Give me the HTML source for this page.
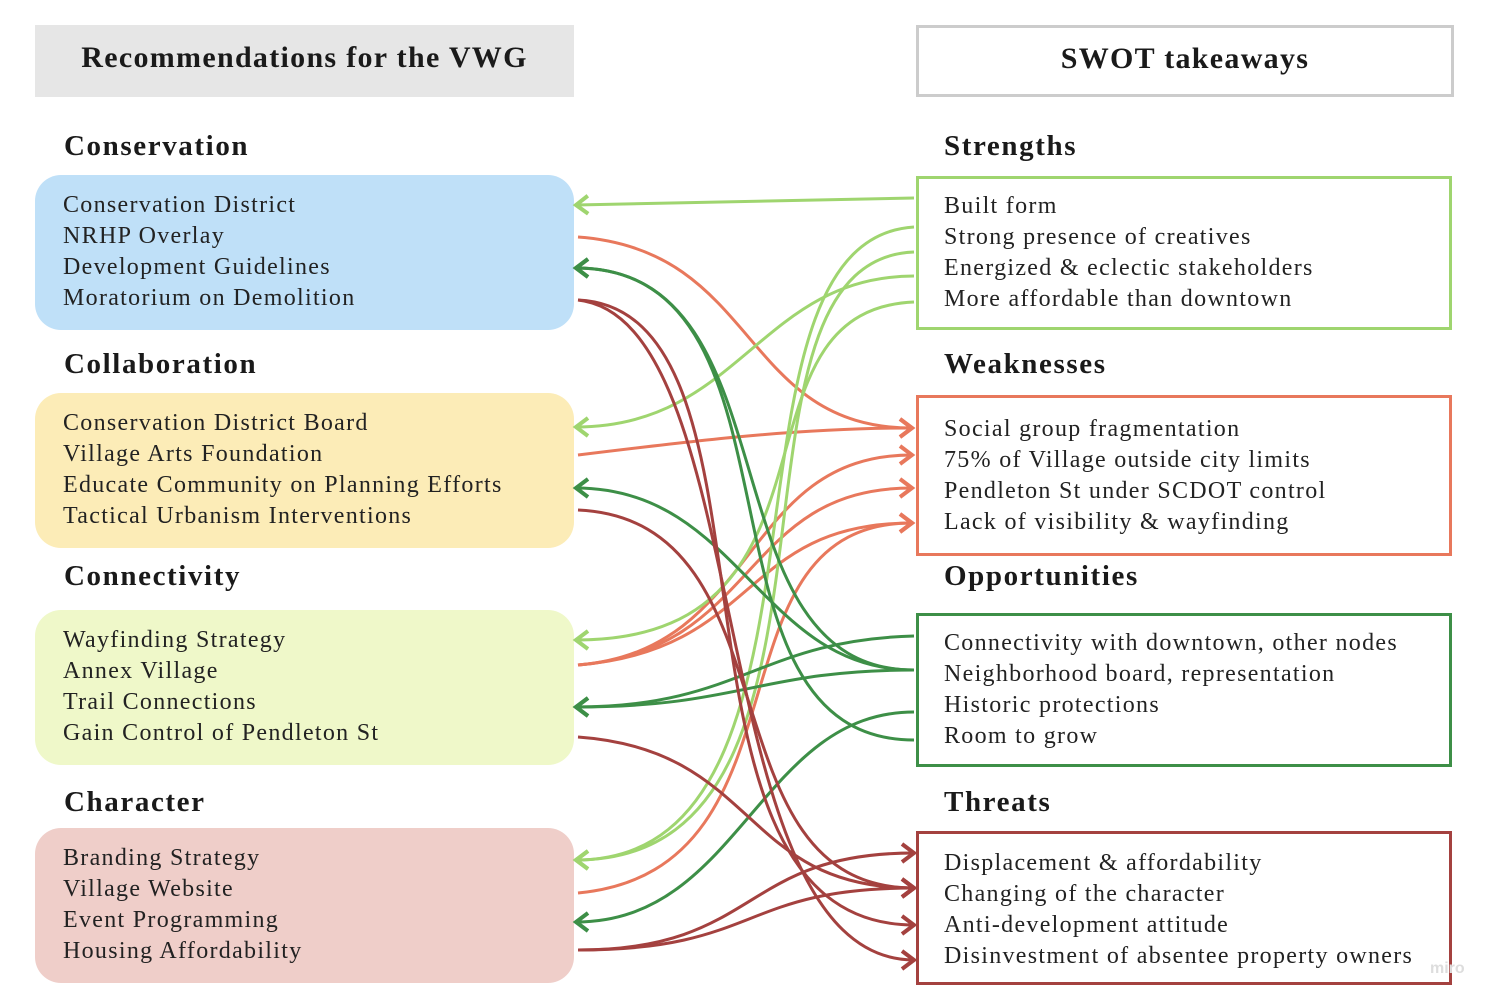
<!DOCTYPE html>
<html><head><meta charset="utf-8"><style>
body{margin:0;width:1494px;height:1007px;background:#fff;position:relative;overflow:hidden;font-family:"Liberation Serif",serif;}
.hd{position:absolute;box-sizing:border-box;font-weight:bold;font-size:30px;text-align:center;color:#1a1a1a;letter-spacing:1.3px}
.sec{position:absolute;font-weight:bold;font-size:29px;color:#1a1a1a;letter-spacing:1.6px}
.box{position:absolute;box-sizing:border-box;font-size:24px;line-height:31px;color:#222;padding-left:28px;letter-spacing:1.3px;white-space:nowrap}
.lb{border-radius:26px;left:35px;width:539px;height:155px;padding-top:15px}
.rb{left:916px;width:536px;height:154px;border:3px solid;padding-left:25px;padding-top:12px}
</style></head><body>
<div class="hd" style="left:35px;top:25px;width:539px;height:72px;background:#e6e6e6;line-height:66px">Recommendations for the VWG</div>
<div class="hd" style="left:916px;top:25px;width:538px;height:72px;border:3px solid #ccc;line-height:62px">SWOT takeaways</div>

<div class="sec" style="left:64px;top:130px">Conservation</div>
<div class="sec" style="left:64px;top:348px">Collaboration</div>
<div class="sec" style="left:64px;top:560px">Connectivity</div>
<div class="sec" style="left:64px;top:786px">Character</div>
<div class="sec" style="left:944px;top:130px">Strengths</div>
<div class="sec" style="left:944px;top:348px">Weaknesses</div>
<div class="sec" style="left:944px;top:560px">Opportunities</div>
<div class="sec" style="left:944px;top:786px">Threats</div>

<div class="box lb" style="top:175px;background:#bfe0f8">Conservation District<br>NRHP Overlay<br>Development Guidelines<br>Moratorium on Demolition</div>
<div class="box lb" style="top:393px;background:#fcecb7">Conservation District Board<br>Village Arts Foundation<br>Educate Community on Planning Efforts<br>Tactical Urbanism Interventions</div>
<div class="box lb" style="top:610px;background:#eff8c9">Wayfinding Strategy<br>Annex Village<br>Trail Connections<br>Gain Control of Pendleton St</div>
<div class="box lb" style="top:828px;background:#efcec9">Branding Strategy<br>Village Website<br>Event Programming<br>Housing Affordability</div>

<div class="box rb" style="top:176px;border-color:#9fd56f">Built form<br>Strong presence of creatives<br>Energized &amp; eclectic stakeholders<br>More affordable than downtown</div>
<div class="box rb" style="top:395px;height:161px;border-color:#e8785c;padding-top:16px">Social group fragmentation<br>75% of Village outside city limits<br>Pendleton St under SCDOT control<br>Lack of visibility &amp; wayfinding</div>
<div class="box rb" style="top:613px;border-color:#3d8f47;padding-top:12px">Connectivity with downtown, other nodes<br>Neighborhood board, representation<br>Historic protections<br>Room to grow</div>
<div class="box rb" style="top:831px;border-color:#a4413f;padding-top:14px">Displacement &amp; affordability<br>Changing of the character<br>Anti-development attitude<br>Disinvestment of absentee property owners</div>
<div style="position:absolute;left:1430px;top:960px;color:#ddd;font-family:'Liberation Sans',sans-serif;font-size:16px;font-weight:bold">miro</div>

<svg width="1494" height="1007" style="position:absolute;left:0;top:0" fill="none" stroke-width="3">
<defs>
<marker id="lg" markerWidth="20" markerHeight="24" refX="15" refY="12" orient="auto" markerUnits="userSpaceOnUse" viewBox="0 0 20 24"><path d="M3,3 L15,12 L3,21" stroke="#9fd56f" stroke-width="4" fill="none"/></marker>
<marker id="sa" markerWidth="20" markerHeight="24" refX="15" refY="12" orient="auto" markerUnits="userSpaceOnUse" viewBox="0 0 20 24"><path d="M3,3 L15,12 L3,21" stroke="#e8785c" stroke-width="4" fill="none"/></marker>
<marker id="dg" markerWidth="20" markerHeight="24" refX="15" refY="12" orient="auto" markerUnits="userSpaceOnUse" viewBox="0 0 20 24"><path d="M3,3 L15,12 L3,21" stroke="#3d8f47" stroke-width="4" fill="none"/></marker>
<marker id="dr" markerWidth="20" markerHeight="24" refX="15" refY="12" orient="auto" markerUnits="userSpaceOnUse" viewBox="0 0 20 24"><path d="M3,3 L15,12 L3,21" stroke="#a4413f" stroke-width="4" fill="none"/></marker>
</defs>
<g stroke="#e8785c" marker-end="url(#sa)">
<path d="M578,237 C760,250 740,428 912,428"/>
<path d="M578,455 C700,440 800,428 912,428"/>
<path d="M578,665 C760,650 740,455 912,455"/>
<path d="M578,665 C760,650 740,488 912,488"/>
<path d="M578,665 C760,650 740,523 912,523"/>
<path d="M578,893 C820,870 700,523 912,523"/>
</g>
<g stroke="#9fd56f" marker-end="url(#lg)">
<path d="M914,198 L576,205"/>
<path d="M914,227 C700,240 860,860 576,860"/>
<path d="M914,252 C700,260 880,860 576,860"/>
<path d="M914,276 C760,276 740,427 576,427"/>
<path d="M914,302 C720,310 860,640 576,640"/>
</g>
<g stroke="#3d8f47" marker-end="url(#dg)">
<path d="M914,670 C700,670 800,268 576,268"/>
<path d="M914,740 C680,740 820,268 576,268"/>
<path d="M914,670 C760,670 740,488 576,488"/>
<path d="M914,636 C760,640 740,707 576,707"/>
<path d="M914,670 C760,670 740,707 576,707"/>
<path d="M914,712 C760,712 740,922 576,922"/>
</g>
<g stroke="#a4413f" marker-end="url(#dr)">
<path d="M578,300 C800,310 640,925 914,925"/>
<path d="M578,300 C760,320 700,960 914,960"/>
<path d="M578,510 C800,520 700,888 914,888"/>
<path d="M578,737 C760,750 740,888 914,888"/>
<path d="M578,950 C760,950 740,853 914,853"/>
<path d="M578,950 C760,950 740,888 914,888"/>
</g>
</svg>
</body></html>
